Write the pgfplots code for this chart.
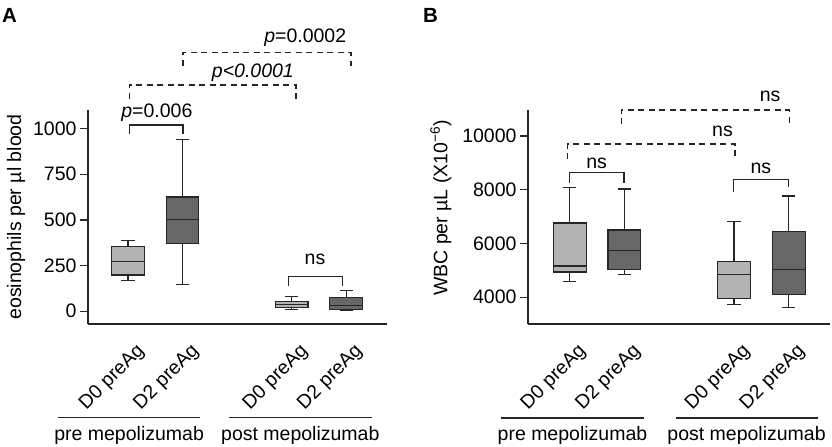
\documentclass[border=0pt]{standalone}
\usepackage{pgfplots}
\pgfplotsset{compat=1.18}
\usepackage{fontspec}
\setmainfont{Liberation Sans}

\definecolor{lightbox}{HTML}{B3B3B3}
\definecolor{darkbox}{HTML}{676767}
\definecolor{lineclr}{HTML}{262626}

\tikzset{
  brk/.style={draw=lineclr, line width=1.2pt},
  dbrk/.style={draw=lineclr, line width=1.2pt, dash pattern=on 6bp off 4.5bp},
}

\pgfplotsset{
  common/.style={
    scale only axis,
    anchor=south west,
    height=214bp,
    clip=false,
    axis x line*=bottom,
    axis y line*=left,
    axis line style={line width=1.2pt, lineclr},
    xtick={1,2,4,5},
    xticklabels={D0 preAg, D2 preAg, D0 preAg, D2 preAg},
    xtick style={draw=none},
    ytick style={line width=1.2pt, lineclr},
    tick align=outside,
    major tick length=8bp,
    scaled y ticks=false,
    unbounded coords=jump,
    /pgf/number format/assume math mode=true,
    /pgf/number format/set thousands separator={},
    tick label style={font=\fontsize{19.5bp}{23bp}\selectfont},
    xticklabel style={rotate=45, anchor=north east, inner sep=0pt, yshift=-12bp, xshift=-2bp},
  },
  lbox/.style={solid, fill=lightbox, draw=lineclr, line width=1.2pt, mark=none},
  dbox/.style={solid, fill=darkbox, draw=lineclr, line width=1.2pt, mark=none},
  wsk/.style={solid, draw=lineclr, line width=1.2pt, mark=none},
}

\begin{document}
\begin{tikzpicture}[font=\fontsize{19.5bp}{23bp}\selectfont]
\path[use as bounding box] (0bp,0bp) rectangle (832bp,447bp);

\node[anchor=base west, inner sep=0pt, font=\fontsize{20.5bp}{23bp}\selectfont\bfseries] at (2bp,424.3bp) {A};
\node[anchor=base west, inner sep=0pt, font=\fontsize{20.5bp}{23bp}\selectfont\bfseries] at (423bp,424.3bp) {B};

% ---------------- Panel A ----------------
\begin{axis}[common,
  at={(88bp,123bp)}, width=299bp,
  xmin=0.266, xmax=5.75, ymin=-70, ymax=1102,
  ytick={0,250,500,750,1000},
  every axis y label/.style={at={(rel axis cs:0,0.5)}, xshift=-72bp, rotate=90, anchor=center},
  ylabel={eosinophils per µl blood},
]
% D0 pre: lw 170, lq 198, med 272, uq 353, uw 388
\addplot[wsk] coordinates {(1,353) (1,388) (nan,nan) (0.88,388) (1.12,388) (nan,nan) (1,198) (1,170) (nan,nan) (0.88,170) (1.12,170)};
\addplot[lbox] coordinates {(0.7,198) (1.3,198) (1.3,353) (0.7,353)} -- cycle;
\addplot[wsk] coordinates {(0.7,272) (1.3,272)};
% D2 pre: lw 148, lq 371, med 502, uq 626, uw 941
\addplot[wsk] coordinates {(2,626) (2,941) (nan,nan) (1.88,941) (2.12,941) (nan,nan) (2,371) (2,148) (nan,nan) (1.88,148) (2.12,148)};
\addplot[dbox] coordinates {(1.7,371) (2.3,371) (2.3,626) (1.7,626)} -- cycle;
\addplot[wsk] coordinates {(1.7,502) (2.3,502)};
% D0 post: lw 11, lq 22, med 38, uq 53, uw 79
\addplot[wsk] coordinates {(4,53) (4,79) (nan,nan) (3.88,79) (4.12,79) (nan,nan) (4,22) (4,11) (nan,nan) (3.88,11) (4.12,11)};
\addplot[lbox] coordinates {(3.7,22) (4.3,22) (4.3,53) (3.7,53)} -- cycle;
\addplot[wsk] coordinates {(3.7,38) (4.3,38)};
% D2 post: lw 5, lq 9, med 33, uq 73, uw 115
\addplot[wsk] coordinates {(5,73) (5,115) (nan,nan) (4.88,115) (5.12,115) (nan,nan) (5,9) (5,5) (nan,nan) (4.88,5) (5.12,5)};
\addplot[dbox] coordinates {(4.7,9) (5.3,9) (5.3,73) (4.7,73)} -- cycle;
\addplot[wsk] coordinates {(4.7,33) (5.3,33)};

\draw[brk] (axis cs:1.03,971) |- (axis cs:2.01,1020) -- (axis cs:2.01,971);
\node[anchor=base] at (axis cs:1.53,1059) {\textit{p}=0.006};
\draw[dbrk] (axis cs:1.02,1163) |- (axis cs:4.08,1239) -- (axis cs:4.08,1163);
\node[anchor=base] at (axis cs:3.29,1278) {\textit{p<0.0001}};
\draw[dbrk] (axis cs:2.01,1343) |- (axis cs:5.09,1415) -- (axis cs:5.09,1343);
\node[anchor=base] at (axis cs:4.25,1469) {\textit{p}=0.0002};
\draw[brk] (axis cs:3.95,139) |- (axis cs:4.93,189) -- (axis cs:4.93,139);
\node[anchor=base] at (axis cs:4.43,254) {ns};

\draw[brk] (axis cs:-0.284,-584) -- (axis cs:2.32,-584);
\node[anchor=base] at (axis cs:1.02,-710) {pre mepolizumab};
\draw[brk] (axis cs:2.85,-584) -- (axis cs:5.48,-584);
\node[anchor=base] at (axis cs:4.16,-710) {post mepolizumab};
\end{axis}

% ---------------- Panel B ----------------
\begin{axis}[common,
  at={(528bp,123bp)}, width=302bp,
  xmin=0.238, xmax=5.754, ymin=3000, ymax=10970,
  ytick={4000,6000,8000,10000},
  every axis y label/.style={at={(rel axis cs:0,0.5)}, xshift=-87bp, yshift=9bp, rotate=90, anchor=center},
  ylabel={WBC per µL (X10\textsuperscript{−6})},
]
% D0 pre: lw 4580, lq 4940, med 5163, uq 6762, uw 8074
\addplot[wsk] coordinates {(1,6762) (1,8074) (nan,nan) (0.88,8074) (1.12,8074) (nan,nan) (1,4940) (1,4580) (nan,nan) (0.88,4580) (1.12,4580)};
\addplot[lbox] coordinates {(0.7,4940) (1.3,4940) (1.3,6762) (0.7,6762)} -- cycle;
\addplot[wsk] coordinates {(0.7,5163) (1.3,5163)};
% D2 pre: lw 4829, lq 5026, med 5732, uq 6502, uw 8025
\addplot[wsk] coordinates {(2,6502) (2,8025) (nan,nan) (1.88,8025) (2.12,8025) (nan,nan) (2,5026) (2,4829) (nan,nan) (1.88,4829) (2.12,4829)};
\addplot[dbox] coordinates {(1.7,5026) (2.3,5026) (2.3,6502) (1.7,6502)} -- cycle;
\addplot[wsk] coordinates {(1.7,5732) (2.3,5732)};
% D0 post: lw 3740, lq 3948, med 4840, uq 5323, uw 6825
\addplot[wsk] coordinates {(4,5323) (4,6825) (nan,nan) (3.88,6825) (4.12,6825) (nan,nan) (4,3948) (4,3740) (nan,nan) (3.88,3740) (4.12,3740)};
\addplot[lbox] coordinates {(3.7,3948) (4.3,3948) (4.3,5323) (3.7,5323)} -- cycle;
\addplot[wsk] coordinates {(3.7,4840) (4.3,4840)};
% D2 post: lw 3613, lq 4097, med 5026, uq 6453, uw 7765
\addplot[wsk] coordinates {(5,6453) (5,7765) (nan,nan) (4.88,7765) (5.12,7765) (nan,nan) (5,4097) (5,3613) (nan,nan) (4.88,3613) (5.12,3613)};
\addplot[dbox] coordinates {(4.7,4097) (5.3,4097) (5.3,6453) (4.7,6453)} -- cycle;
\addplot[wsk] coordinates {(4.7,5026) (5.3,5026)};

\draw[brk] (axis cs:1.0,8241) |- (axis cs:1.99,8650) -- (axis cs:1.99,8241);
\node[anchor=base] at (axis cs:1.49,8799) {ns};
\draw[brk] (axis cs:3.995,7929) |- (axis cs:4.99,8390) -- (axis cs:4.99,8115);
\node[anchor=base] at (axis cs:4.49,8587) {ns};
\draw[dbrk] (axis cs:0.96,9134) |- (axis cs:4.02,9703) -- (axis cs:4.02,9134);
\node[anchor=base] at (axis cs:3.79,10001) {ns};
\draw[dbrk] (axis cs:1.94,10436) |- (axis cs:5.01,10968) -- (axis cs:5.01,10436);
\node[anchor=base] at (axis cs:4.66,11277) {ns};

\draw[brk] (axis cs:-0.255,-501) -- (axis cs:2.357,-501);
\node[anchor=base] at (axis cs:1.05,-1346) {pre mepolizumab};
\draw[brk] (axis cs:2.94,-501) -- (axis cs:5.54,-501);
\node[anchor=base] at (axis cs:4.23,-1346) {post mepolizumab};
\end{axis}
\end{tikzpicture}
\end{document}
